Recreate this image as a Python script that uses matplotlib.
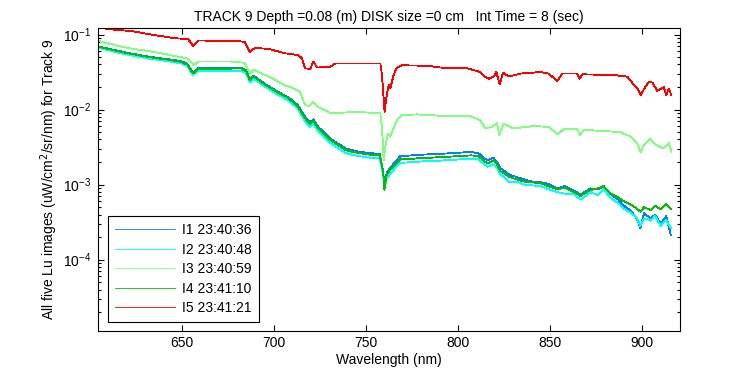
import matplotlib
matplotlib.use("Agg")
import matplotlib.pyplot as plt
import numpy as np

plt.rcParams["font.family"] = ["Liberation Sans", "DejaVu Sans"]
plt.rcParams["font.size"] = 10
plt.rcParams["axes.unicode_minus"] = False

# wavelengths (nm) shared by the three lower spectra I1, I2, I4
wl_low = [605, 615, 623, 632, 641, 649, 653, 656, 658.5, 668,
          682, 685, 687, 689, 695, 702, 708, 713, 717, 719.5,
          721.5, 724, 731, 739, 746, 752, 757.5, 759.4, 760, 761.2,
          763, 765.8, 768.6, 775, 781, 790, 800, 807, 811, 814,
          816, 819, 821, 823, 828, 832, 836, 840, 845, 849,
          854, 858, 863, 866.5, 872, 876, 879, 883, 887, 890,
          894, 897, 899, 901, 904.5, 907, 910, 913, 915.5]

# log10 of Lu
i1_log = [-1.16, -1.215, -1.255, -1.295, -1.325, -1.35, -1.39, -1.51, -1.45, -1.45,
          -1.44, -1.48, -1.60, -1.55, -1.655, -1.76, -1.84, -1.94, -2.10, -2.17,
          -2.13, -2.23, -2.39, -2.52, -2.56, -2.58, -2.59, -2.84, -3.05, -2.85,
          -2.78, -2.70, -2.62, -2.61, -2.60, -2.59, -2.575, -2.565, -2.58, -2.64,
          -2.68, -2.64, -2.69, -2.78, -2.87, -2.90, -2.93, -2.96, -2.97, -2.99,
          -3.05, -3.02, -3.08, -3.13, -3.05, -3.06, -3.03, -3.13, -3.20, -3.28,
          -3.35, -3.45, -3.58, -3.38, -3.45, -3.40, -3.52, -3.42, -3.67]

i2_log = [-1.18, -1.24, -1.28, -1.32, -1.35, -1.38, -1.42, -1.54, -1.49, -1.49,
          -1.48, -1.52, -1.64, -1.59, -1.69, -1.80, -1.88, -1.99, -2.16, -2.23,
          -2.19, -2.29, -2.45, -2.58, -2.62, -2.64, -2.65, -2.88, -3.05, -2.92,
          -2.86, -2.78, -2.71, -2.70, -2.69, -2.68, -2.665, -2.655, -2.665, -2.72,
          -2.76, -2.73, -2.77, -2.86, -2.97, -2.96, -3.00, -3.01, -3.02, -3.06,
          -3.10, -3.12, -3.13, -3.20, -3.10, -3.14, -3.06, -3.18, -3.25, -3.32,
          -3.38, -3.44, -3.55, -3.45, -3.48, -3.42, -3.55, -3.47, -3.58]

i4_log = [-1.163, -1.22, -1.26, -1.30, -1.33, -1.36, -1.40, -1.52, -1.46, -1.46,
          -1.45, -1.49, -1.61, -1.56, -1.665, -1.77, -1.85, -1.96, -2.12, -2.19,
          -2.15, -2.25, -2.41, -2.54, -2.58, -2.60, -2.61, -2.85, -3.07, -2.87,
          -2.81, -2.74, -2.66, -2.655, -2.645, -2.635, -2.62, -2.61, -2.62, -2.68,
          -2.72, -2.68, -2.72, -2.82, -2.90, -2.93, -2.96, -2.97, -2.98, -3.02,
          -3.06, -3.04, -3.10, -3.15, -3.07, -3.05, -3.02, -3.12, -3.17, -3.22,
          -3.27, -3.32, -3.36, -3.30, -3.34, -3.28, -3.33, -3.26, -3.32]

wl_i3 = [605, 615, 623, 632, 641, 649, 653, 656.5, 659, 677,
         684, 687, 689, 699, 706, 709, 714, 717, 719, 721.5,
         723.5, 731, 745, 757.8, 758.7, 759.6, 760.5, 761.8, 763.2, 766.8,
         769.6, 777.7, 795.8, 806.7, 812, 814.8, 818.4, 821.1, 822.4, 824.8,
         830.2, 841.1, 849.2, 854.1, 857.4, 864.7, 866.1, 868.3, 888.2, 893.6,
         897.3, 899.1, 900.9, 904.5, 906.3, 908.2, 911.7, 914.5, 915.8]
i3_log = [-1.087, -1.15, -1.19, -1.22, -1.26, -1.30, -1.317, -1.41, -1.36, -1.36,
          -1.376, -1.52, -1.47, -1.58, -1.68, -1.70, -1.76, -1.94, -1.953, -1.90,
          -1.96, -2.05, -2.03, -2.05, -2.23, -2.67, -2.50, -2.32, -2.36, -2.14,
          -2.073, -2.064, -2.09, -2.09, -2.14, -2.25, -2.23, -2.18, -2.34, -2.19,
          -2.25, -2.22, -2.23, -2.33, -2.26, -2.26, -2.34, -2.27, -2.30, -2.36,
          -2.45, -2.57, -2.47, -2.39, -2.45, -2.48, -2.52, -2.45, -2.56]

wl_i5 = [605, 608, 609, 622.5, 631.7, 646.2, 653.4, 656.1, 658.9, 676.8,
         684.2, 686.9, 689.7, 696.9, 706, 709, 713.2, 715.2, 717, 719.7,
         721.5, 723.4, 730.6, 733.3, 757.8, 758.7, 760.1, 761, 762.3, 763.2,
         765, 766.8, 769.6, 783.2, 790.4, 804.9, 812.1, 813.9, 816.6, 819.3,
         820.8, 822.6, 824.4, 827.5, 833.9, 844.7, 849.2, 853.8, 856.5, 864.7,
         865.9, 867.4, 884.6, 891.8, 895.5, 897.6, 899.1, 900.9, 903.6, 905.5,
         908.2, 911.7, 913, 914.5, 915.8]
i5_log = [-0.90, -0.915, -0.927, -0.953, -0.993, -1.05, -1.06, -1.15, -1.08, -1.083,
          -1.096, -1.23, -1.18, -1.19, -1.25, -1.26, -1.273, -1.317, -1.45, -1.46,
          -1.36, -1.44, -1.43, -1.385, -1.385, -1.54, -2.03, -1.85, -1.67, -1.72,
          -1.54, -1.44, -1.41, -1.416, -1.44, -1.45, -1.50, -1.55, -1.59, -1.56,
          -1.50, -1.665, -1.51, -1.56, -1.52, -1.50, -1.52, -1.62, -1.52, -1.52,
          -1.59, -1.53, -1.54, -1.56, -1.67, -1.72, -1.81, -1.73, -1.63, -1.64,
          -1.75, -1.70, -1.81, -1.72, -1.81]

labels = ["I1 23:40:36", "I2 23:40:48", "I3 23:40:59", "I4 23:41:10", "I5 23:41:21"]
colors = ["#0a7aff", "#00ffff", "#80ff80", "#00bf00", "#ff0000"]

series = [(wl_low, i1_log), (wl_low, i2_log), (wl_i3, i3_log), (wl_low, i4_log), (wl_i5, i5_log)]

fig = plt.figure(figsize=(7.5, 3.75), dpi=100)
ax = fig.add_axes([98 / 750, 44 / 375, 582 / 750, 303 / 375])

for (wl, lg), lab, c in zip(series, labels, colors):
    ax.plot(wl, 10 ** np.array(lg), color=c, lw=0.6, label=lab, antialiased=False)

ax.set_yscale("log")
ax.set_xlim(604.5, 920.5)
ax.set_ylim(10 ** -4.95, 10 ** -0.913)
ax.set_xticks([650, 700, 750, 800, 850, 900])
ax.set_yticks([1e-4, 1e-3, 1e-2, 1e-1])

ax.tick_params(which="both", direction="in", top=True, right=True, width=0.8)
ax.tick_params(which="major", length=4.5)
ax.tick_params(which="minor", length=2.3)
ax.tick_params(axis="x", which="minor", top=False, bottom=False)
ax.tick_params(axis="y", pad=5)
for sp in ax.spines.values():
    sp.set_linewidth(0.8)

ax.set_title("TRACK 9 Depth =0.08 (m) DISK size =0 cm   Int Time = 8 (sec)", fontsize=10, pad=5)
ax.set_xlabel("Wavelength (nm)", labelpad=2)
ax.set_ylabel("All five Lu images (uW/cm$^2$/sr/nm) for Track 9", labelpad=2)

leg = ax.legend(loc="lower left", bbox_to_anchor=(0.0177, 0.0287), borderaxespad=0,
                fancybox=False, edgecolor="black", framealpha=1, handlelength=4.3,
                handletextpad=0.5, labelspacing=0.4, borderpad=0.5)
leg.get_frame().set_linewidth(0.8)

fig.savefig("out.png", dpi=100)
